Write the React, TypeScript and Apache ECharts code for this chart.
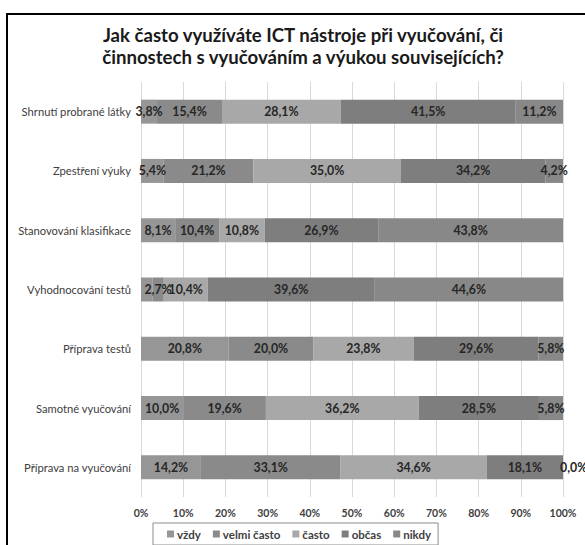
import React, { useEffect, useRef } from "react";
import * as echarts from "echarts";

const categories = [
  "Shrnutí probrané látky",
  "Zpestření výuky",
  "Stanovování klasifikace",
  "Vyhodnocování testů",
  "Příprava testů",
  "Samotné vyučování",
  "Příprava na vyučování",
];
const seriesNames = ["vždy", "velmi často", "často", "občas", "nikdy"];
const vzdy = [3.8, 5.4, 8.1, 2.7, 20.8, 10.0, 14.2];
const velmiCasto = [15.4, 21.2, 10.4, 2.7, 20.0, 19.6, 33.1];
const casto = [28.1, 35.0, 10.8, 10.4, 23.8, 36.2, 34.6];
const obcas = [41.5, 34.2, 26.9, 39.6, 29.6, 28.5, 18.1];
const nikdy = [11.2, 4.2, 43.8, 44.6, 5.8, 5.8, 0.0];
const xTicks = [0, 10, 20, 30, 40, 50, 60, 70, 80, 90, 100];

const colors = ["#969696", "#8a8a8a", "#a8a8a8", "#7e7e7e", "#888888"];
const FONT = "Lato";

const fmt = (v: number) => v.toFixed(1).replace(".", ",") + "%";

export default function App() {
  const ref = useRef<HTMLDivElement>(null);
  useEffect(() => {
    if (!ref.current) return;
    const chart = echarts.init(ref.current, undefined, { renderer: "svg" });
    const all = [vzdy, velmiCasto, casto, obcas, nikdy];
    const series = all.map((arr, si) => ({
      name: seriesNames[si],
      type: "bar",
      stack: "total",
      barWidth: 24,
      itemStyle: { color: colors[si] },
      label: {
        show: true,
        position: "inside",
        formatter: (p: any) => fmt(p.value as number),
        fontFamily: FONT,
        fontSize: 12.3,
        fontWeight: "bold",
        color: "#262626",
      },
      data: arr.map((v, i) => {
        if (si === 0 && i === 3) {
          return { value: v, label: { show: false } };
        }
        if (v === 0) {
          return { value: v, label: { position: "right", distance: -3 } };
        }
        return v;
      }),
    }));
    chart.setOption({
      animation: false,
      backgroundColor: "#ffffff",
      title: {
        text: "Jak často využíváte ICT nástroje při vyučování, či\nčinnostech s vyučováním a výukou souvisejících?",
        left: 298,
        top: 19,
        textAlign: "center",
        textStyle: {
          fontFamily: FONT,
          fontSize: 18.6,
          fontWeight: "bold",
          color: "#1a1a1a",
          lineHeight: 22,
        },
      },
      graphic: [
        {
          type: "rect",
          shape: { x: 7, y: 14, width: 640, height: 640 },
          style: { fill: "none", stroke: "#000", lineWidth: 2 },
          silent: true,
        },
      ],
      grid: { left: 141, right: 22, top: 82, bottom: 48 },
      xAxis: {
        type: "value",
        min: xTicks[0],
        max: xTicks[xTicks.length - 1],
        interval: 10,
        axisLine: { show: false },
        axisTick: { show: false },
        splitLine: { lineStyle: { color: "#d9d9d9", width: 1 } },
        axisLabel: {
          formatter: "{value}%",
          fontFamily: FONT,
          fontSize: 10.5,
          fontWeight: "bold",
          color: "#404040",
          margin: 10,
        },
      },
      yAxis: {
        type: "category",
        data: categories,
        inverse: true,
        axisLine: { show: false },
        axisTick: { show: false },
        axisLabel: {
          fontFamily: FONT,
          fontSize: 11.2,
          color: "#404040",
          margin: 10,
        },
      },
      legend: {
        data: seriesNames,
        left: 153,
        top: 523,
        padding: [5, 7, 5, 14],
        borderColor: "#8c8c8c",
        borderWidth: 1,
        icon: "rect",
        itemWidth: 7,
        itemHeight: 7,
        itemGap: 12,
        textStyle: {
          fontFamily: FONT,
          fontSize: 11.5,
          fontWeight: "bold",
          color: "#404040",
          padding: [0, 0, 0, -2],
        },
      },
      series,
    });
    return () => chart.dispose();
  }, []);
  return (
    <div
      ref={ref}
      style={{ position: "fixed", left: 0, top: 0, width: 585, height: 545 }}
    />
  );
}
